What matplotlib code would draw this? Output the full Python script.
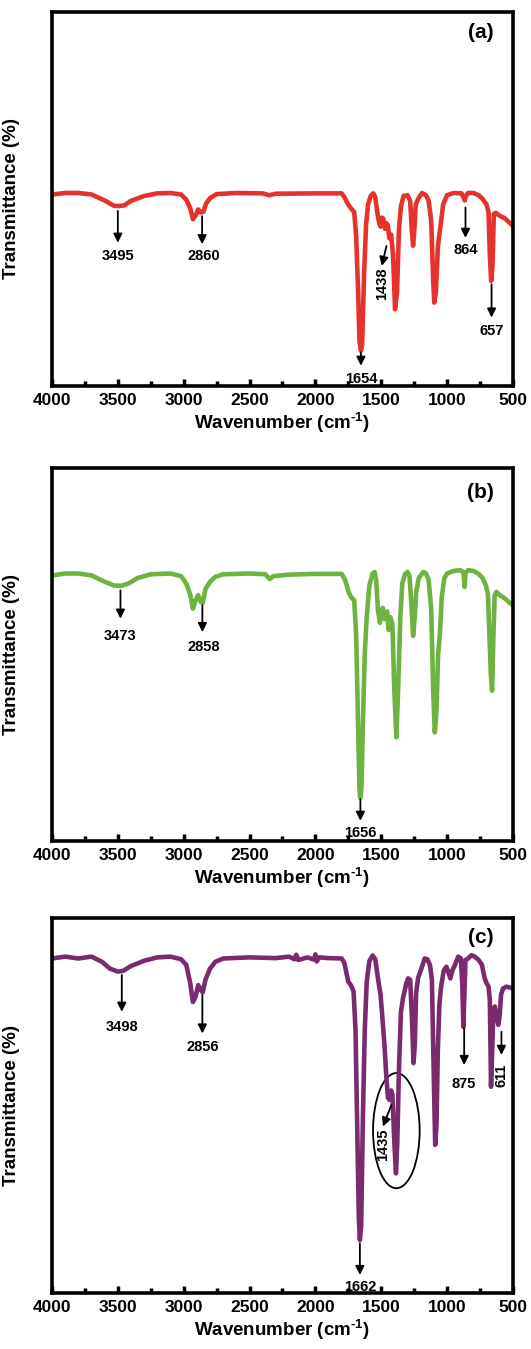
import matplotlib
matplotlib.use("Agg")
import matplotlib.pyplot as plt
from matplotlib.patches import Ellipse

plt.rcParams['font.family'] = ['Liberation Sans', 'DejaVu Sans']
plt.rcParams['font.weight'] = 'bold'
plt.rcParams['mathtext.fontset'] = 'custom'
plt.rcParams['mathtext.rm'] = 'Liberation Sans:bold'
plt.rcParams['mathtext.bf'] = 'Liberation Sans:bold'
plt.rcParams['mathtext.default'] = 'bf'

# spectrum (a)
wn_a = [4000, 3900, 3800, 3700, 3600, 3530, 3495, 3450, 3400, 3300, 3200, 3100,
        3020, 2980, 2950, 2930, 2910, 2890, 2870, 2850, 2830, 2800, 2750, 2600,
        2400, 2350, 2300, 2000, 1800, 1780, 1750, 1725, 1705, 1690, 1675, 1665,
        1654, 1645, 1630, 1615, 1600, 1580, 1560, 1545, 1530, 1515, 1505, 1495,
        1485, 1470, 1460, 1450, 1438, 1425, 1410, 1395, 1380, 1365, 1350, 1330,
        1300, 1280, 1268, 1258, 1248, 1238, 1220, 1190, 1160, 1140, 1120, 1105,
        1097, 1085, 1070, 1060, 1045, 1030, 1000, 950, 890, 875, 866, 857, 840,
        800, 760, 730, 700, 685, 675, 665, 655, 645, 630, 600, 560, 530, 500]
t_a = [51.2, 51.6, 51.6, 51.2, 49.6, 48.2, 48.1, 48.3, 49.5, 50.8, 51.5, 51.6,
       51.2, 49.8, 47.5, 44.6, 45.5, 47.2, 46.4, 46.6, 48.8, 50.2, 51.3, 51.6,
       51.5, 51.0, 51.4, 51.5, 51.5, 50.5, 48.5, 47.3, 46.5, 40.0, 25.0, 12.0,
       9.4, 11.0, 30.0, 43.0, 48.5, 50.8, 51.5, 50.5, 46.5, 43.5, 42.6, 45.0,
       44.8, 42.0, 43.5, 43.0, 39.5, 40.5, 35.0, 20.5, 25.0, 42.0, 48.0, 50.8,
       51.0, 49.5, 42.0, 37.5, 42.0, 48.5, 50.0, 51.6, 51.0, 49.6, 44.0, 28.0,
       22.3, 25.0, 37.0, 40.0, 44.0, 48.5, 51.0, 51.6, 51.5, 50.5, 49.6, 50.8, 51.6,
       51.6, 51.0, 50.0, 48.5, 46.5, 35.0, 28.1, 32.0, 46.0, 46.3, 45.5, 44.8, 43.8, 42.8]

# spectrum (b)
wn_b = [4000, 3900, 3800, 3700, 3600, 3530, 3473, 3420, 3350, 3250, 3100, 3020,
        2980, 2950, 2930, 2910, 2890, 2870, 2855, 2835, 2800, 2760, 2700, 2500,
        2380, 2345, 2320, 2200, 2000, 1800, 1775, 1745, 1725, 1705, 1690, 1675,
        1665, 1660, 1650, 1640, 1625, 1610, 1590, 1565, 1550, 1538, 1525, 1510,
        1500, 1488, 1475, 1465, 1455, 1443, 1430, 1415, 1400, 1385, 1372, 1355,
        1340, 1320, 1300, 1285, 1270, 1258, 1245, 1235, 1215, 1180, 1160, 1140,
        1120, 1105, 1093, 1080, 1068, 1055, 1040, 1020, 1000, 950, 900, 875, 867,
        860, 840, 800, 760, 730, 705, 690, 678, 668, 658, 648, 638, 625, 600, 560,
        530, 500]
t_b = [71.2, 71.7, 71.7, 71.2, 69.5, 68.5, 68.4, 69.0, 70.5, 71.5, 71.7, 71.0,
       69.0, 66.0, 62.3, 64.5, 65.9, 64.1, 63.8, 67.5, 69.5, 70.8, 71.5, 71.7,
       71.5, 70.2, 71.0, 71.4, 71.6, 71.6, 70.0, 66.5, 65.2, 64.5, 55.0, 30.0,
       14.0, 11.6, 14.0, 30.0, 50.0, 60.0, 68.5, 71.7, 72.1, 70.0, 62.0, 58.5,
       61.4, 62.5, 59.5, 60.5, 61.5, 56.6, 60.0, 58.0, 40.0, 27.8, 40.0, 60.0,
       69.0, 71.5, 72.1, 71.0, 63.0, 55.0, 60.0, 66.5, 70.5, 72.1, 71.7, 70.0,
       62.0, 40.0, 29.1, 35.0, 50.0, 55.0, 65.5, 70.5, 71.7, 72.4, 72.6, 72.0, 68.1,
       71.8, 72.6, 72.4, 71.6, 70.5, 68.5, 66.3, 55.0, 45.0, 40.3, 55.0, 65.9, 66.8,
       65.9, 65.0, 64.0, 63.2]

# spectrum (c)
wn_c = [4000, 3900, 3800, 3700, 3620, 3560, 3500, 3460, 3400, 3300, 3200, 3100,
        3020, 2980, 2950, 2930, 2910, 2890, 2870, 2855, 2835, 2800, 2760, 2700,
        2500, 2300, 2200, 2160, 2145, 2130, 2060, 2010, 2000, 1990, 1970, 1900,
        1800, 1780, 1750, 1730, 1710, 1695, 1680, 1670, 1662, 1652, 1640, 1625,
        1610, 1590, 1565, 1545, 1525, 1505, 1490, 1475, 1460, 1448, 1438, 1425,
        1415, 1400, 1388, 1378, 1365, 1350, 1335, 1310, 1295, 1280, 1265, 1255,
        1245, 1235, 1220, 1195, 1170, 1150, 1130, 1115, 1102, 1090, 1080, 1070,
        1058, 1045, 1025, 1005, 985, 975, 960, 940, 915, 895, 884, 876, 868, 860,
        840, 815, 790, 760, 735, 715, 700, 685, 675, 666, 658, 648, 637, 625, 611,
        600, 590, 575, 550, 525, 500]
t_c = [89.2, 89.7, 89.2, 89.7, 88.3, 86.5, 85.7, 85.9, 87.2, 88.6, 89.5, 89.7,
       89.0, 87.5, 82.6, 77.6, 79.0, 82.1, 80.8, 80.2, 83.5, 86.5, 88.3, 89.2,
       89.5, 89.3, 89.7, 89.0, 90.2, 88.8, 89.5, 88.9, 90.3, 88.4, 89.5, 89.3,
       89.2, 88.0, 83.0, 82.1, 80.5, 70.0, 40.0, 20.0, 14.1, 18.0, 45.0, 70.0,
       83.0, 88.5, 90.0, 89.0, 84.0, 79.5, 73.0, 66.0, 57.0, 52.0, 51.5, 54.0,
       53.0, 40.0, 31.9, 40.0, 60.0, 75.0, 78.5, 82.5, 83.9, 83.5, 72.0, 61.3,
       66.0, 80.0, 84.0, 86.5, 89.2, 89.0, 87.5, 83.5, 60.0, 39.5, 45.0, 64.8,
       77.0, 81.7, 86.0, 87.0, 85.0, 83.9, 86.0, 87.5, 89.7, 89.2, 82.0, 71.0, 80.0, 88.8,
       89.2, 90.1, 89.7, 88.8, 87.5, 84.0, 82.6, 81.7, 78.0, 55.0, 64.0, 75.5, 76.4, 74.0, 71.5,
       74.0, 79.5, 81.2, 81.7, 81.5, 81.2]

colors = ['#e5322b', '#6db33f', '#7a2a6d']
panel_tags = ['(a)', '(b)', '(c)']

# peak labels: (text, arrow x, arrow y start, arrow y end, label x, label y, rotation)
peaks_a = [('3495', 3500, 46.8, 38.3, 3500, 36.5, 0),
           ('2860', 2860, 45.4, 37.9, 2845, 36.5, 0),
           ('1654', 1654, 9.0, 5.4, 1654, 3.8, 0),
           ('1438', 1460, 37.4, 32.1, 1496, 27.2, 90),
           ('864', 860, 47.7, 39.6, 860, 38.3, 0),
           ('657', 662, 27.2, 18.3, 662, 16.5, 0)]
peaks_b = [('3473', 3480, 67.2, 59.6, 3480, 56.9, 0),
           ('2858', 2858, 63.2, 56.0, 2850, 53.8, 0),
           ('1656', 1658, 11.2, 5.4, 1658, 4.0, 0)]
peaks_c = [('3498', 3470, 84.8, 75.0, 3470, 72.8, 0),
           ('2856', 2858, 79.5, 69.2, 2855, 67.5, 0),
           ('1662', 1662, 13.2, 4.8, 1662, 3.4, 0),
           ('1435', 1423, 50.1, 44.4, 1487, 39.5, 90),
           ('875', 870, 70.6, 60.8, 870, 57.7, 0),
           ('611', 587, 69.7, 63.5, 587, 58.1, 90)]

fig = plt.figure(figsize=(5.31, 13.49), dpi=100)
boxes = [[0.0979, 0.7139, 0.868, 0.2772],
         [0.0979, 0.3766, 0.868, 0.2765],
         [0.0979, 0.0415, 0.868, 0.2780]]
tag_y = [0.944, 0.933, 0.949]

spectra = [(wn_a, t_a, peaks_a), (wn_b, t_b, peaks_b), (wn_c, t_c, peaks_c)]
for i, (wn, t, peaks) in enumerate(spectra):
    ax = fig.add_axes(boxes[i])
    ax.plot(wn, t, color=colors[i], lw=3.3, solid_joinstyle='round',
            solid_capstyle='round')
    ax.set_xlim(4000, 500)
    ax.set_ylim(0, 100)
    ax.set_xticks([4000, 3500, 3000, 2500, 2000, 1500, 1000, 500])
    ax.set_xticks(range(3750, 500, -500), minor=True)
    ax.set_yticks([])
    ax.tick_params(axis='x', which='major', direction='in', length=5, width=2.5,
                   labelsize=12.5, pad=5)
    ax.tick_params(axis='x', which='minor', direction='in', length=3.5, width=2.5)
    for lab in ax.get_xticklabels():
        lab.set_fontweight('bold')
    for sp in ax.spines.values():
        sp.set_linewidth(2.6)
    ax.set_xlabel(r'Wavenumber (cm$^{\text{-1}}$)', fontsize=13.5,
                  fontweight='bold', labelpad=2)
    ax.set_ylabel('Transmittance (%)', fontsize=13.5, fontweight='bold')
    ax.yaxis.set_label_coords(-0.07, 0.5)
    ax.text(0.93, tag_y[i], panel_tags[i], transform=ax.transAxes,
            fontsize=15, fontweight='bold', ha='center', va='center')
    for text, ax_x, y0, y1, lx, ly, rot in peaks:
        dx = lx - ax_x if rot else 0
        ax.annotate('', xy=(ax_x + dx, y1), xytext=(ax_x, y0),
                    arrowprops=dict(arrowstyle='-|>', color='black', lw=1.3,
                                    mutation_scale=13, shrinkA=0, shrinkB=0))
        ax.text(lx, ly, text, fontsize=10.5, fontweight='bold', ha='center',
                va='top' if rot == 0 else 'center', rotation=rot)
    if i == 2:
        ax.add_patch(Ellipse((1385, 43.3), 354, 30.7, fill=False,
                             edgecolor='black', lw=1.3))

fig.savefig('out.png', dpi=100)
